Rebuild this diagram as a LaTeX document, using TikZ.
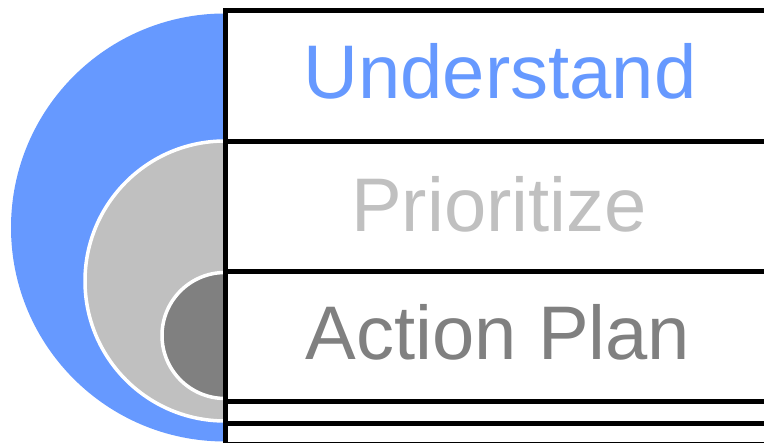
\documentclass[tikz,border=0pt]{standalone}
\usepackage{fontspec}
\setmainfont{Liberation Sans}
\definecolor{layerblue}{HTML}{6699FF}
\definecolor{layergray}{HTML}{C0C0C0}
\definecolor{layerdark}{HTML}{808080}
\begin{document}
\begin{tikzpicture}[x=1pt,y=1pt,
  rowline/.style={draw=black,line width=5pt},
  layer/.style={draw=white,line width=3.5pt},
  label/.style={anchor=base,inner sep=0pt,font=\fontsize{76}{88}\selectfont}]
\useasboundingbox (0,0) rectangle (764,443);
\clip (0,0) rectangle (764,443);
% nested half discs
\fill[layerblue] (225,429.5) arc[start angle=90,end angle=270,radius=214] -- cycle;
\filldraw[layer,fill=layergray] (225,302) arc[start angle=90,end angle=270,radius=140] -- cycle;
\filldraw[layer,fill=layerdark] (225,170.5) arc[start angle=90,end angle=270,radius=63] -- cycle;
% table rows
\draw[rowline] (780,432) -- (225.5,432) -- (225.5,-5);
\foreach \y in {301,171.5,41.5,19.5,-2}
  \draw[rowline] (225.5,\y) -- (780,\y);
% row labels
\node[label,text=layerblue] (understand) at (500,344) {Understand};
\node[label,text=layergray] (prioritize) at (499,211) {Prioritize};
\node[label,text=layerdark] (action) at (498,83) {Action Plan};
\end{tikzpicture}
\end{document}
